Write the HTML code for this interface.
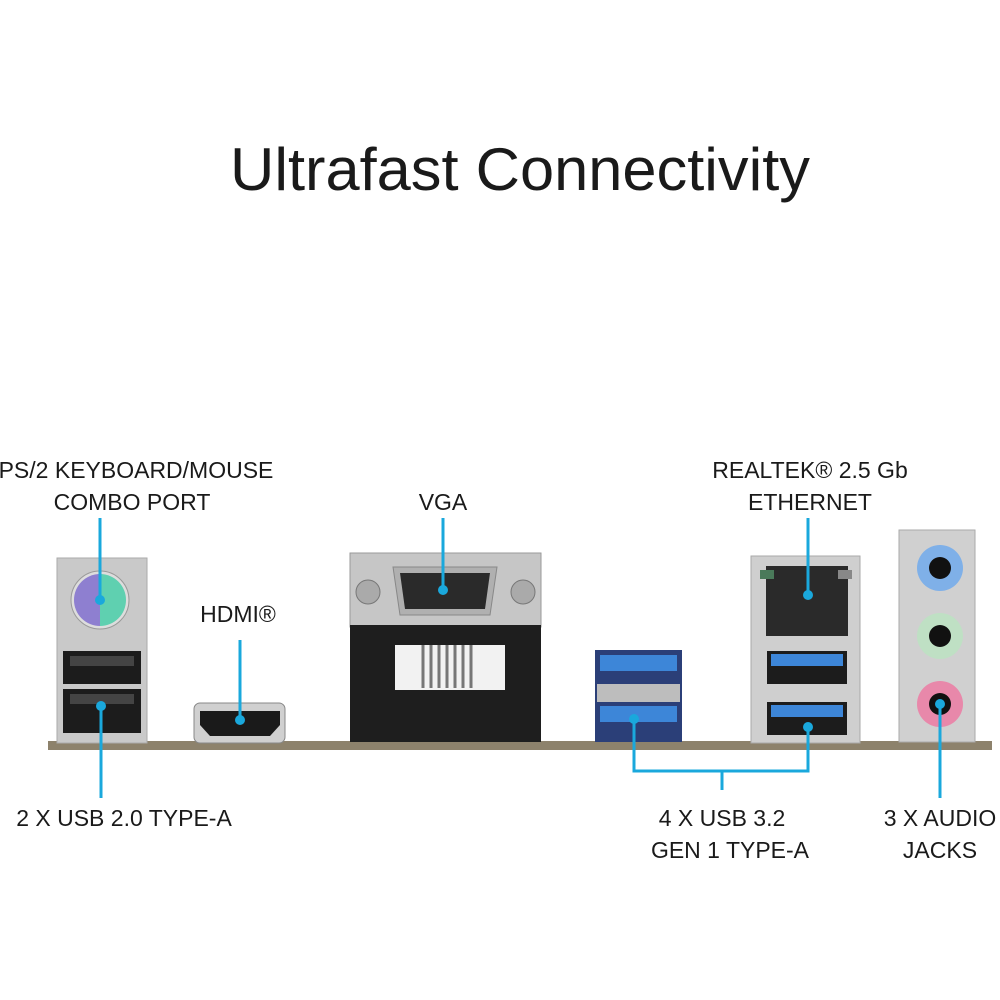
<!DOCTYPE html>
<html><head><meta charset="utf-8"><style>
html,body{margin:0;padding:0;background:#fff;}
svg{display:block;}
text{font-family:"Liberation Sans",sans-serif;fill:#1a1a1a;}
</style></head><body>
<svg width="1000" height="1000" viewBox="0 0 1000 1000" xmlns="http://www.w3.org/2000/svg">
<text x="520" y="190" font-size="60" text-anchor="middle" textLength="580" lengthAdjust="spacingAndGlyphs">Ultrafast Connectivity</text>

<g font-size="23" text-anchor="middle">
<text x="136" y="478">PS/2 KEYBOARD/MOUSE</text>
<text x="132" y="510">COMBO PORT</text>
<text x="443" y="510">VGA</text>
<text x="238" y="622">HDMI®</text>
<text x="810" y="478">REALTEK® 2.5 Gb</text>
<text x="810" y="510">ETHERNET</text>
<text x="124" y="826">2 X USB 2.0 TYPE-A</text>
<text x="722" y="826">4 X USB 3.2</text>
<text x="730" y="858">GEN 1 TYPE-A</text>
<text x="940" y="826">3 X AUDIO</text>
<text x="940" y="858">JACKS</text>
</g>

<!-- PCB -->
<rect x="48" y="741" width="944" height="9" fill="#8d826c"/>

<!-- PS/2 + USB2 -->
<rect x="57" y="558" width="90" height="185" fill="#c9c9c9" stroke="#aaa"/>
<circle cx="100" cy="600" r="29" fill="#ddd" stroke="#999"/>
<path d="M100 574 A26 26 0 0 0 100 626 Z" fill="#8e7fd0"/>
<path d="M100 574 A26 26 0 0 1 100 626 Z" fill="#5fd0b0"/>
<rect x="63" y="651" width="78" height="33" fill="#1c1c1c"/>
<rect x="63" y="689" width="78" height="44" fill="#1c1c1c"/>
<rect x="70" y="656" width="64" height="10" fill="#444"/>
<rect x="70" y="694" width="64" height="10" fill="#444"/>

<!-- HDMI -->
<rect x="194" y="703" width="91" height="40" rx="6" fill="#d0d0d0" stroke="#888"/>
<path d="M200 711 H280 V725 L270 736 H210 L200 725 Z" fill="#1a1a1a"/>

<!-- VGA -->
<rect x="350" y="553" width="191" height="74" fill="#c6c6c6" stroke="#999"/>
<circle cx="368" cy="592" r="12" fill="#aaa" stroke="#777"/>
<circle cx="523" cy="592" r="12" fill="#aaa" stroke="#777"/>
<path d="M393 567 H497 L490 615 H400 Z" fill="#b0b0b0" stroke="#888"/>
<path d="M400 573 H490 L485 609 H405 Z" fill="#2a2a2a"/>
<rect x="350" y="625" width="191" height="117" fill="#1e1e1e"/>
<rect x="395" y="645" width="110" height="45" fill="#f2f2f2"/>
<g stroke="#777" stroke-width="3">
<line x1="423" y1="645" x2="423" y2="688"/><line x1="431" y1="645" x2="431" y2="688"/><line x1="439" y1="645" x2="439" y2="688"/><line x1="447" y1="645" x2="447" y2="688"/><line x1="455" y1="645" x2="455" y2="688"/><line x1="463" y1="645" x2="463" y2="688"/><line x1="471" y1="645" x2="471" y2="688"/>
</g>

<!-- USB3 stack -->
<rect x="595" y="650" width="87" height="92" fill="#2b3f78"/>
<rect x="600" y="655" width="77" height="16" fill="#3d86d8"/>
<rect x="597" y="684" width="83" height="18" fill="#bdbdbd"/>
<rect x="600" y="706" width="77" height="16" fill="#3d86d8"/>

<!-- Ethernet block -->
<rect x="751" y="556" width="109" height="187" fill="#cfcfcf" stroke="#aaa"/>
<rect x="766" y="566" width="82" height="70" fill="#2a2a2a"/>
<rect x="760" y="570" width="14" height="9" fill="#4a7a5a"/>
<rect x="838" y="570" width="14" height="9" fill="#888"/>
<rect x="767" y="651" width="80" height="33" fill="#1c1c1c"/>
<rect x="771" y="654" width="72" height="12" fill="#3d86d8"/>
<rect x="767" y="702" width="80" height="33" fill="#1c1c1c"/>
<rect x="771" y="705" width="72" height="12" fill="#3d86d8"/>

<!-- Audio -->
<rect x="899" y="530" width="76" height="212" fill="#d0d0d0" stroke="#aaa"/>
<circle cx="940" cy="568" r="23" fill="#7fb0e8"/><circle cx="940" cy="568" r="11" fill="#111"/>
<circle cx="940" cy="636" r="23" fill="#bfe0c4"/><circle cx="940" cy="636" r="11" fill="#111"/>
<circle cx="940" cy="704" r="23" fill="#e888aa"/><circle cx="940" cy="704" r="11" fill="#111"/>

<!-- connectors -->
<g stroke="#1aa8dc" stroke-width="3" fill="none">
<line x1="100" y1="518" x2="100" y2="600"/>
<line x1="101" y1="706" x2="101" y2="798"/>
<line x1="240" y1="640" x2="240" y2="720"/>
<line x1="443" y1="518" x2="443" y2="590"/>
<line x1="808" y1="518" x2="808" y2="595"/>
<polyline points="634,719 634,771 808,771 808,727"/>
<line x1="722" y1="771" x2="722" y2="790"/>
<line x1="940" y1="704" x2="940" y2="798"/>
</g>
<g fill="#1aa8dc">
<circle cx="100" cy="600" r="5"/><circle cx="101" cy="706" r="5"/><circle cx="240" cy="720" r="5"/>
<circle cx="443" cy="590" r="5"/><circle cx="808" cy="595" r="5"/><circle cx="634" cy="719" r="5"/>
<circle cx="808" cy="727" r="5"/><circle cx="940" cy="704" r="5"/>
</g>
</svg>
</body></html>
